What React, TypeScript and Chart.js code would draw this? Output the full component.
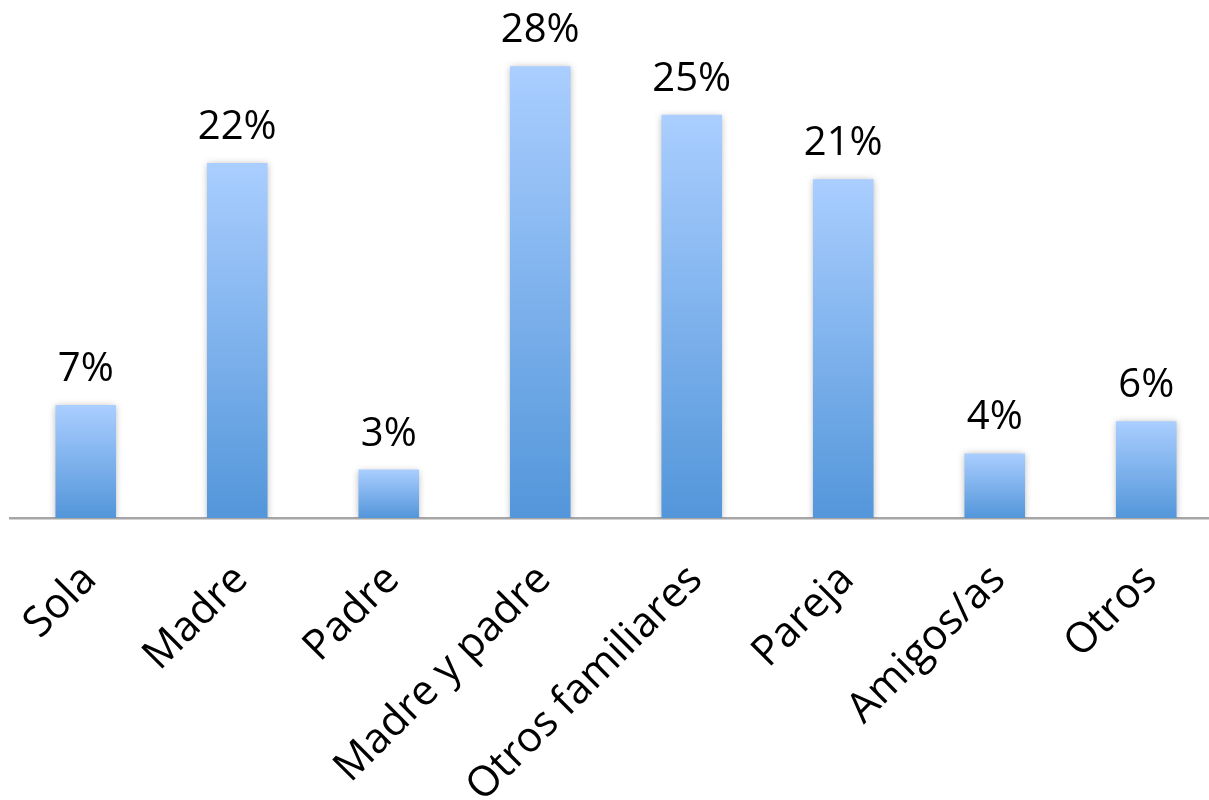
import React, { useEffect, useRef } from "react";
import { Chart, registerables } from "chart.js";

Chart.register(...registerables);

const categories: string[] = [
  "Sola",
  "Madre",
  "Padre",
  "Madre y padre",
  "Otros familiares",
  "Pareja",
  "Amigos/as",
  "Otros",
];
const percentages: number[] = [7, 22, 3, 28, 25, 21, 4, 6];
const yMin = 0;
const yMax = 30;

const FONT = "'Open Sans', 'Liberation Sans', sans-serif";

const barShadow = {
  id: "barShadow",
  beforeDatasetsDraw(chart: any) {
    const ctx = chart.ctx;
    ctx.save();
    ctx.shadowColor = "rgba(0,0,0,0.28)";
    ctx.shadowBlur = 7;
    ctx.shadowOffsetX = 0;
    ctx.shadowOffsetY = 1;
  },
  afterDatasetsDraw(chart: any) {
    chart.ctx.restore();
  },
};

const valueLabels = {
  id: "valueLabels",
  afterDraw(chart: any) {
    const ctx = chart.ctx;
    const meta = chart.getDatasetMeta(0);
    ctx.save();
    ctx.font = `40px ${FONT}`;
    ctx.fillStyle = "#000000";
    ctx.textAlign = "center";
    ctx.textBaseline = "alphabetic";
    meta.data.forEach((bar: any, i: number) => {
      const v = chart.data.datasets[0].data[i];
      ctx.fillText(`${v}%`, bar.x, bar.y - 24);
    });
    ctx.restore();
  },
};

export default function App() {
  const canvasRef = useRef<HTMLCanvasElement | null>(null);

  useEffect(() => {
    const canvas = canvasRef.current;
    if (!canvas) return;
    const chart = new Chart(canvas, {
      type: "bar",
      data: {
        labels: categories,
        datasets: [
          {
            data: percentages,
            barPercentage: 0.4,
            categoryPercentage: 1,
            borderWidth: 0,
            backgroundColor: (c: any) => {
              const ch = c.chart;
              if (!ch.chartArea || c.raw === undefined) return "#7DB2EE";
              const y = ch.scales.y;
              const top = y.getPixelForValue(c.raw);
              const bottom = y.getPixelForValue(0);
              const g = ch.ctx.createLinearGradient(0, top, 0, bottom);
              g.addColorStop(0, "#AACEFF");
              g.addColorStop(1, "#5396DA");
              return g;
            },
          },
        ],
      },
      options: {
        responsive: false,
        animation: false,
        maintainAspectRatio: false,
        layout: { padding: { left: 10, right: 10, top: 34, bottom: 0 } },
        plugins: {
          legend: { display: false },
          tooltip: { enabled: false },
        },
        scales: {
          x: {
            grid: { display: false, drawTicks: false },
            border: { display: true, color: "#A6A6A6", width: 2.5 },
            ticks: {
              minRotation: 45,
              maxRotation: 45,
              autoSkip: false,
              padding: 37,
              labelOffset: 4,
              color: "#000000",
              font: { family: FONT, size: 42 },
            },
            afterFit: (scale: any) => {
              scale.height = 282;
              scale.paddingLeft = 0;
              scale.paddingRight = 0;
            },
          },
          y: {
            display: false,
            min: yMin,
            max: yMax,
          },
        },
      },
      plugins: [barShadow, valueLabels],
    });
    return () => chart.destroy();
  }, []);

  return (
    <div
      style={{
        position: "absolute",
        left: 0,
        top: 0,
        width: 1209,
        height: 800,
        overflow: "hidden",
        background: "#ffffff",
      }}
    >
      <canvas ref={canvasRef} width={1232} height={800} style={{ display: "block" }} />
    </div>
  );
}
